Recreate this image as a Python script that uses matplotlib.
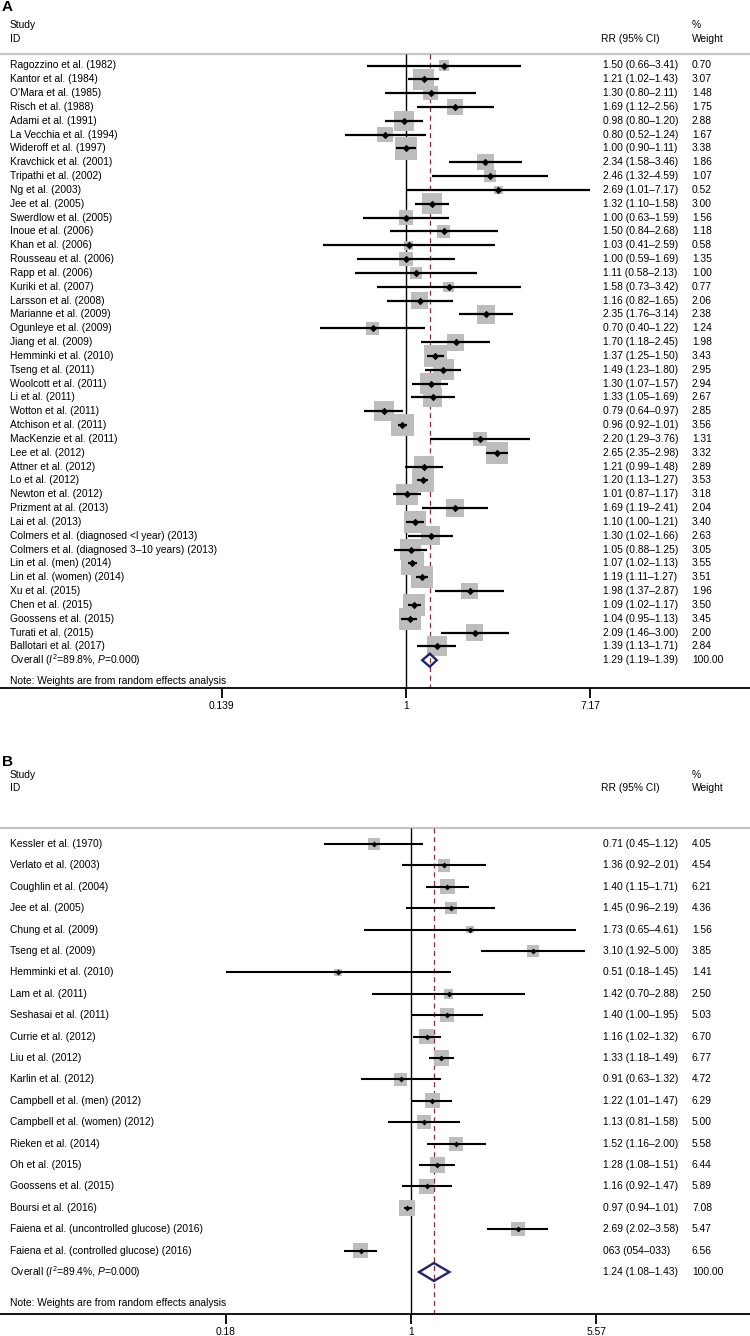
import numpy as np
import matplotlib
matplotlib.use('Agg')
import matplotlib.pyplot as plt
from matplotlib.transforms import blended_transform_factory

plt.rcParams['font.family'] = ['Liberation Sans', 'DejaVu Sans']
plt.rcParams['mathtext.fontset'] = 'custom'
plt.rcParams['mathtext.rm'] = 'Liberation Sans'
plt.rcParams['mathtext.it'] = 'Liberation Sans:italic'

# panel A data
studies_a = ['Ragozzino et al. (1982)', 'Kantor et al. (1984)', "O'Mara et al. (1985)",
             'Risch et al. (1988)', 'Adami et al. (1991)', 'La Vecchia et al. (1994)',
             'Wideroff et al. (1997)', 'Kravchick et al. (2001)', 'Tripathi et al. (2002)',
             'Ng et al. (2003)', 'Jee et al. (2005)', 'Swerdlow et al. (2005)',
             'Inoue et al. (2006)', 'Khan et al. (2006)', 'Rousseau et al. (2006)',
             'Rapp et al. (2006)', 'Kuriki et al. (2007)', 'Larsson et al. (2008)',
             'Marianne et al. (2009)', 'Ogunleye et al. (2009)', 'Jiang et al. (2009)',
             'Hemminki et al. (2010)', 'Tseng et al. (2011)', 'Woolcott et al. (2011)',
             'Li et al. (2011)', 'Wotton et al. (2011)', 'Atchison et al. (2011)',
             'MacKenzie et al. (2011)', 'Lee et al. (2012)', 'Attner et al. (2012)',
             'Lo et al. (2012)', 'Newton et al. (2012)', 'Prizment at al. (2013)',
             'Lai et al. (2013)', 'Colmers et al. (diagnosed <l year) (2013)',
             'Colmers et al. (diagnosed 3\u201310 years) (2013)', 'Lin et al. (men) (2014)',
             'Lin et al. (women) (2014)', 'Xu et al. (2015)', 'Chen et al. (2015)',
             'Goossens et al. (2015)', 'Turati et al. (2015)', 'Ballotari et al. (2017)']
rr_a = [1.50, 1.21, 1.30, 1.69, 0.98, 0.80, 1.00, 2.34, 2.46, 2.69, 1.32, 1.00, 1.50, 1.03,
        1.00, 1.11, 1.58, 1.16, 2.35, 0.70, 1.70, 1.37, 1.49, 1.30, 1.33, 0.79, 0.96, 2.20,
        2.65, 1.21, 1.20, 1.01, 1.69, 1.10, 1.30, 1.05, 1.07, 1.19, 1.98, 1.09, 1.04, 2.09, 1.39]
lo_a = [0.66, 1.02, 0.80, 1.12, 0.80, 0.52, 0.90, 1.58, 1.32, 1.01, 1.10, 0.63, 0.84, 0.41,
        0.59, 0.58, 0.73, 0.82, 1.76, 0.40, 1.18, 1.25, 1.23, 1.07, 1.05, 0.64, 0.92, 1.29,
        2.35, 0.99, 1.13, 0.87, 1.19, 1.00, 1.02, 0.88, 1.02, 1.11, 1.37, 1.02, 0.95, 1.46, 1.13]
hi_a = [3.41, 1.43, 2.11, 2.56, 1.20, 1.24, 1.11, 3.46, 4.59, 7.17, 1.58, 1.59, 2.68, 2.59,
        1.69, 2.13, 3.42, 1.65, 3.14, 1.22, 2.45, 1.50, 1.80, 1.57, 1.69, 0.97, 1.01, 3.76,
        2.98, 1.48, 1.27, 1.17, 2.41, 1.21, 1.66, 1.25, 1.13, 1.27, 2.87, 1.17, 1.13, 3.00, 1.71]
weight_a = [0.70, 3.07, 1.48, 1.75, 2.88, 1.67, 3.38, 1.86, 1.07, 0.52, 3.00, 1.56, 1.18, 0.58,
            1.35, 1.00, 0.77, 2.06, 2.38, 1.24, 1.98, 3.43, 2.95, 2.94, 2.67, 2.85, 3.56, 1.31,
            3.32, 2.89, 3.53, 3.18, 2.04, 3.40, 2.63, 3.05, 3.55, 3.51, 1.96, 3.50, 3.45, 2.00, 2.84]
overall_a = (1.29, 1.19, 1.39)
i2_a = '89.8'
ticks_a = [0.139, 1, 7.17]
ticklabels_a = ['0.139', '1', '7.17']

# panel B data
studies_b = ['Kessler et al. (1970)', 'Verlato et al. (2003)', 'Coughlin et al. (2004)',
             'Jee et al. (2005)', 'Chung et al. (2009)', 'Tseng et al. (2009)',
             'Hemminki et al. (2010)', 'Lam et al. (2011)', 'Seshasai et al. (2011)',
             'Currie et al. (2012)', 'Liu et al. (2012)', 'Karlin et al. (2012)',
             'Campbell et al. (men) (2012)', 'Campbell et al. (women) (2012)',
             'Rieken et al. (2014)', 'Oh et al. (2015)', 'Goossens et al. (2015)',
             'Boursi et al. (2016)', 'Faiena et al. (uncontrolled glucose) (2016)',
             'Faiena et al. (controlled glucose) (2016)']
rr_b = [0.71, 1.36, 1.40, 1.45, 1.73, 3.10, 0.51, 1.42, 1.40, 1.16, 1.33, 0.91, 1.22, 1.13,
        1.52, 1.28, 1.16, 0.97, 2.69, 0.63]
lo_b = [0.45, 0.92, 1.15, 0.96, 0.65, 1.92, 0.18, 0.70, 1.00, 1.02, 1.18, 0.63, 1.01, 0.81,
        1.16, 1.08, 0.92, 0.94, 2.02, 0.54]
hi_b = [1.12, 2.01, 1.71, 2.19, 4.61, 5.00, 1.45, 2.88, 1.95, 1.32, 1.49, 1.32, 1.47, 1.58,
        2.00, 1.51, 1.47, 1.01, 3.58, 0.73]
weight_b = [4.05, 4.54, 6.21, 4.36, 1.56, 3.85, 1.41, 2.50, 5.03, 6.70, 6.77, 4.72, 6.29, 5.00,
            5.58, 6.44, 5.89, 7.08, 5.47, 6.56]
# the last row is printed without decimal points in the source figure
ci_text_override_b = {19: '063 (054\u2013033)'}
overall_b = (1.24, 1.08, 1.43)
i2_b = '89.4'
ticks_b = [0.18, 1, 5.57]
ticklabels_b = ['0.18', '1', '5.57']

W, H, DPI = 750, 1336, 100
FS = 7.4
BOX = '#bdbdbd'
NAVY = '#22226e'
RED = '#8e2a35'

fig = plt.figure(figsize=(W / DPI, H / DPI), dpi=DPI)


def panel(letter, top_px, bot_px, row0_px, step_px, null_px, px_per_ln,
          studies, rr, lo, hi, wt, overall, i2, ticks, ticklabels,
          box_k, ci_lw, mk, dia_h, override=None):
    ax = fig.add_axes([0, 1 - bot_px / H, 1, (bot_px - top_px) / H])
    ax.set_xscale('log')
    ax.set_xlim(np.exp(-null_px / px_per_ln), np.exp((W - null_px) / px_per_ln))
    ax.set_ylim((bot_px - row0_px) / step_px, (top_px - row0_px) / step_px)
    tr = blended_transform_factory(ax.transAxes, ax.transData)

    def r(px):
        return (px - row0_px) / step_px

    n = len(studies)
    rows = np.arange(n)
    grey_row = r(top_px + hdr_line[letter])
    axis_row = r(axis_px[letter])

    # header
    ax.text(2 / W, r(top_px + hdr_letter[letter]), letter, transform=tr, fontsize=11,
            fontweight='bold', va='center', ha='left')
    ax.text(10 / W, r(top_px + hdr_study[letter]), 'Study', transform=tr, fontsize=FS, va='center')
    ax.text(10 / W, r(top_px + hdr_id[letter]), 'ID', transform=tr, fontsize=FS, va='center')
    ax.text(601 / W, r(top_px + hdr_id[letter]), 'RR (95% CI)', transform=tr, fontsize=FS, va='center')
    ax.text(692 / W, r(top_px + hdr_study[letter]), '%', transform=tr, fontsize=FS, va='center')
    ax.text(692 / W, r(top_px + hdr_id[letter]), 'Weight', transform=tr, fontsize=FS, va='center')
    ax.axhline(grey_row, color='#c4c4c4', lw=1.6, zorder=1)

    # reference lines
    ax.vlines(1, grey_row, axis_row, color='black', lw=1.0, zorder=1)
    ax.vlines(overall[0], grey_row, axis_row, color=RED, lw=0.9,
              linestyles=(0, (4, 3)), zorder=1)

    # study boxes, CIs, point estimates
    side_pt = box_k * np.sqrt(np.array(wt)) * 72 / DPI
    ax.scatter(rr, rows, s=side_pt ** 2, marker='s', color=BOX, linewidths=0, zorder=2)
    ax.hlines(rows, lo, hi, color='black', lw=ci_lw, zorder=3)
    ax.scatter(rr, rows, s=mk ** 2, marker='D', color='black', linewidths=0, zorder=4)

    for i in range(n):
        ax.text(10 / W, i, studies[i], transform=tr, fontsize=FS, va='center')
        txt = '%.2f (%.2f\u2013%.2f)' % (rr[i], lo[i], hi[i])
        if override and i in override:
            txt = override[i]
        ax.text(603 / W, i, txt, transform=tr, fontsize=FS, va='center')
        ax.text(692 / W, i, '%.2f' % wt[i], transform=tr, fontsize=FS, va='center')

    # overall diamond
    est, olo, ohi = overall
    ax.fill([olo, est, ohi, est, olo], [n, n - dia_h, n, n + dia_h, n],
            facecolor='none', edgecolor=NAVY, lw=1.7, zorder=4)
    ax.text(10 / W, n, r'Overall ($\mathit{I}^2$=' + i2 + r'%, $\mathit{P}$=0.000)',
            transform=tr, fontsize=FS, va='center')
    ax.text(603 / W, n, '%.2f (%.2f\u2013%.2f)' % overall, transform=tr, fontsize=FS, va='center')
    ax.text(692 / W, n, '100.00', transform=tr, fontsize=FS, va='center')
    ax.text(10 / W, r(note_px[letter]), 'Note: Weights are from random effects analysis',
            transform=tr, fontsize=FS, va='center')

    # x axis
    for s in ['top', 'left', 'right']:
        ax.spines[s].set_visible(False)
    ax.spines['bottom'].set_position(('data', axis_row))
    ax.spines['bottom'].set_linewidth(1.3)
    ax.set_xticks(ticks)
    ax.set_xticklabels(ticklabels)
    ax.minorticks_off()
    ax.tick_params(axis='x', direction='out', length=7, width=1.3, pad=2.5, labelsize=FS)
    ax.set_yticks([])
    ax.patch.set_visible(False)
    return ax


hdr_letter = {'A': 7, 'B': 22}
hdr_study = {'A': 24.5, 'B': 35}
hdr_id = {'A': 39, 'B': 48}
hdr_line = {'A': 54.3, 'B': 88}
note_px = {'A': 681, 'B': 1303}
axis_px = {'A': 688, 'B': 1314}

panel('A', 0, 740, 65.5, 13.83, 406, 93.4,
      studies_a, rr_a, lo_a, hi_a, weight_a, overall_a, i2_a, ticks_a, ticklabels_a,
      box_k=12, ci_lw=1.6, mk=3.8, dia_h=0.47)
panel('B', 740, 1336, 844, 21.4, 410.7, 108.0,
      studies_b, rr_b, lo_b, hi_b, weight_b, overall_b, i2_b, ticks_b, ticklabels_b,
      box_k=6, ci_lw=1.5, mk=3.0, dia_h=0.42, override=ci_text_override_b)

fig.savefig('out.png', dpi=DPI)
